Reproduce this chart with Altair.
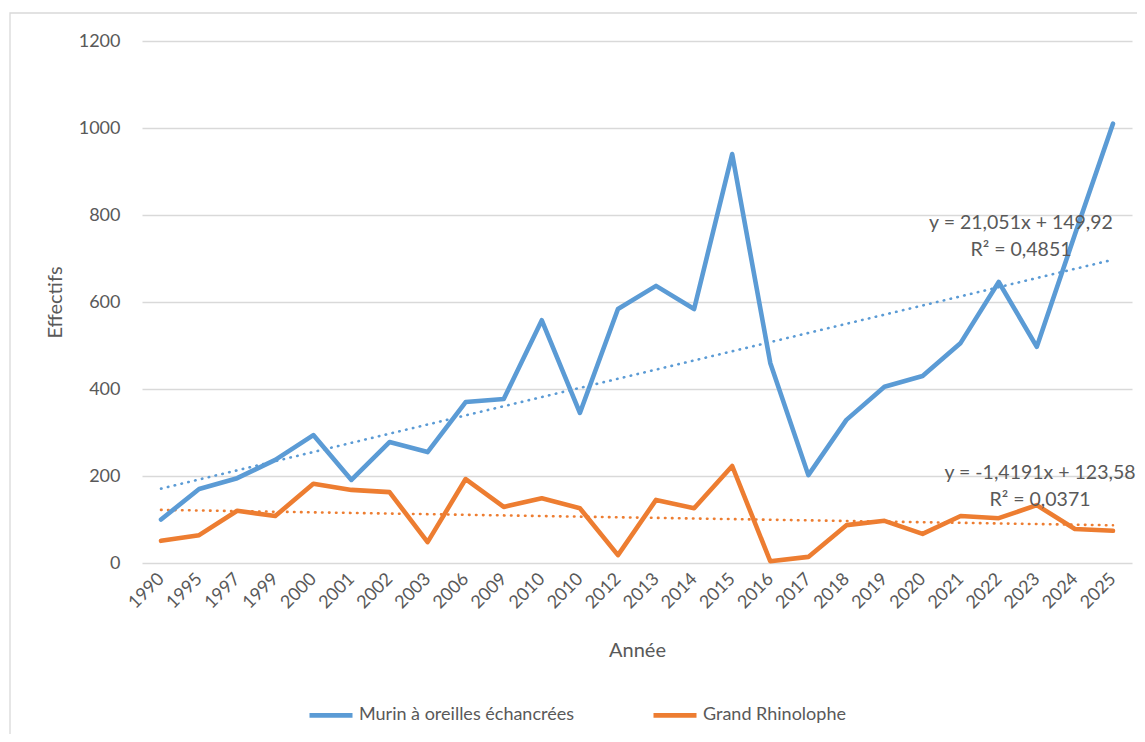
import json
import altair as alt
import pandas as pd

# ---- data ----
years = ["1990", "1995", "1997", "1999", "2000", "2001", "2002", "2003", "2006",
         "2009", "2010", "2010", "2012", "2013", "2014", "2015", "2016", "2017",
         "2018", "2019", "2020", "2021", "2022", "2023", "2024", "2025"]
murin = [100, 170, 195, 237, 294, 191, 278, 255, 370, 377, 558, 345, 584, 637,
         584, 940, 460, 202, 329, 405, 430, 506, 646, 497, 755, 1010]
rhino = [51, 64, 120, 108, 182, 168, 163, 48, 193, 129, 149, 126, 18, 145,
         126, 223, 4, 14, 87, 97, 67, 108, 103, 133, 78, 74]

series_names = ["Murin à oreilles échancrées", "Grand Rhinolophe"]
series_colors = ["#5B9BD5", "#ED7D31"]
trend_slope = [21.051, -1.4191]
trend_intercept = [149.92, 123.58]
trend_labels = ["y = 21,051x + 149,92\nR² = 0,4851",
                "y = -1,4191x + 123,58\nR² = 0,0371"]

FONT = "Lato"
TXT = "#595959"
GRID = "#D9D9D9"

idx = list(range(1, len(years) + 1))
rows = []
trows = []
for name, col, vals, a, b in zip(series_names, series_colors, [murin, rhino],
                                 trend_slope, trend_intercept):
    for i, v in zip(idx, vals):
        rows.append({"idx": i, "serie": name, "value": v})
        trows.append({"idx": i, "serie": name, "color": col, "trend": a * i + b})
df = pd.DataFrame(rows)
tdf = pd.DataFrame(trows)

label_expr = json.dumps(years) + "[datum.value - 1]"

x_axis = alt.Axis(
    values=idx, labelExpr=label_expr, title="Année", grid=False, domain=False,
    ticks=False, labelAngle=315, labelAlign="right", labelBaseline="middle",
    labelPadding=13, labelFontSize=18, labelColor=TXT, labelFont=FONT,
    titleFontSize=20, titleColor=TXT, titleFont=FONT, titleFontWeight="normal",
    titleY=87, titleBaseline="middle", labelOverlap=False,
)
y_axis = alt.Axis(
    values=[0, 200, 400, 600, 800, 1000, 1200], format="d", title="Effectifs", grid=True,
    gridColor=GRID, gridWidth=1.3, domain=False, ticks=False, labelPadding=22,
    labelFontSize=18, labelColor=TXT, labelFont=FONT, titleFontSize=20,
    titleColor=TXT, titleFont=FONT, titleFontWeight="normal",
    titleX=-87, titleY=261, titleAngle=270, titleBaseline="middle", titleAlign="center",
)

xs = alt.X("idx:Q", scale=alt.Scale(domain=[0.5, len(years) + 0.5], nice=False, zero=False), axis=x_axis)
ys = alt.Y("value:Q", scale=alt.Scale(domain=[0, 1200], nice=False), axis=y_axis)

border = alt.Chart(alt.Data(values=[{"a": 1}])).mark_rect(
    fill="transparent", stroke=GRID, strokeWidth=1.3
).encode(
    x=alt.value(-132), x2=alt.value(1010), y=alt.value(-28), y2=alt.value(720)
)

trend = alt.Chart(tdf).mark_line(
    strokeWidth=2.6, strokeDash=[0.5, 6.5], strokeCap="round"
).encode(
    x=xs, y=alt.Y("trend:Q", scale=alt.Scale(domain=[0, 1200], nice=False), axis=y_axis),
    color=alt.Color("color:N", scale=None), detail="serie:N",
)

lines = alt.Chart(df).mark_line(strokeWidth=4.6, strokeJoin="round", strokeCap="round").encode(
    x=xs, y=ys,
    color=alt.Color(
        "serie:N",
        scale=alt.Scale(domain=series_names, range=series_colors),
        legend=alt.Legend(
            title=None, orient="none", direction="horizontal", legendX=165, legendY=650,
            symbolType="stroke", symbolSize=1850, symbolStrokeWidth=4.6,
            labelFontSize=18, labelColor=TXT, labelFont=FONT, labelOffset=4,
            columnPadding=70, labelLimit=400,
        ),
    ),
    order=alt.Order("idx:Q"),
)

ann_blue = alt.Chart(alt.Data(values=[{"t": trend_labels[0]}])).mark_text(
    font=FONT, fontSize=19.5, color=TXT, align="center", baseline="middle",
    lineBreak="\n", lineHeight=27
).encode(text="t:N", x=alt.value(879), y=alt.value(182))

ann_orange = alt.Chart(alt.Data(values=[{"t": trend_labels[1]}])).mark_text(
    font=FONT, fontSize=19.5, color=TXT, align="center", baseline="middle",
    lineBreak="\n", lineHeight=27
).encode(text="t:N", x=alt.value(898), y=alt.value(432))

chart = alt.layer(border, trend, lines, ann_blue, ann_orange).properties(
    width=990, height=522,
    autosize=alt.AutoSizeParams(type="none"),
    padding={"left": 134, "top": 33, "right": 5, "bottom": 171},
    background="white",
).configure_view(stroke=None)

chart.save("out.html", embed_options={"renderer": "svg", "actions": False})
